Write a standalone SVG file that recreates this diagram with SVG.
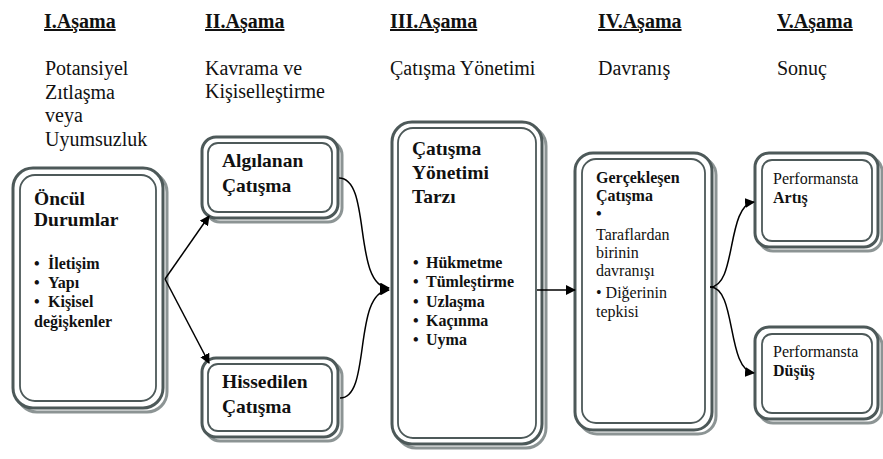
<svg xmlns="http://www.w3.org/2000/svg" width="883" height="459" viewBox="0 0 883 459">
<style>
text{font-family:"Liberation Serif","Times New Roman",serif;fill:#111}
.h{font-size:20px;font-weight:bold;text-decoration:underline}
.s{font-size:20px;font-weight:normal}
.t{font-size:19.5px;font-weight:bold}
.li{font-size:16px;font-weight:bold}
.r{font-size:16px;font-weight:normal}
.b{font-size:16px;font-weight:bold}
.sh{fill:none;stroke:#8c9494;stroke-width:3}
.o{fill:#fff;stroke:#4d5959;stroke-width:3}
.i{fill:none;stroke:#4d5959;stroke-width:1.8}
.c{fill:none;stroke:#000;stroke-width:1.5}
</style>
<defs>
<marker id="ah" viewBox="0 0 10 10" refX="9" refY="5" markerWidth="10" markerHeight="10" markerUnits="userSpaceOnUse" orient="auto">
<path d="M0,0 L10,5 L0,10 Z" fill="#000"/>
</marker>
</defs>
<rect width="883" height="459" fill="#fff"/>
<g id="headers">
<text class="h" x="44" y="28">I.Aşama</text>
<text class="h" x="205" y="28">II.Aşama</text>
<text class="h" x="390" y="28">III.Aşama</text>
<text class="h" x="598" y="28">IV.Aşama</text>
<text class="h" x="777" y="28">V.Aşama</text>
<text class="s" x="45" y="75">Potansiyel</text>
<text class="s" x="45" y="99">Zıtlaşma</text>
<text class="s" x="45" y="122">veya</text>
<text class="s" x="45" y="146">Uyumsuzluk</text>
<text class="s" x="205" y="75">Kavrama ve</text>
<text class="s" x="205" y="98">Kişiselleştirme</text>
<text class="s" x="390" y="75">Çatışma Yönetimi</text>
<text class="s" x="598" y="75">Davranış</text>
<text class="s" x="777" y="75">Sonuç</text>
</g>
<g id="n1">
<rect class="sh" x="17" y="172" width="150" height="240" rx="20"/>
<rect class="o" x="13" y="168" width="150" height="240" rx="20"/>
<rect class="i" x="20" y="175" width="136" height="226" rx="15"/>
<text class="t" x="34" y="205">Öncül</text>
<text class="t" x="34" y="226">Durumlar</text>
<text class="li" x="34" y="269">•</text><text class="li" x="48" y="269">İletişim</text>
<text class="li" x="34" y="288">•</text><text class="li" x="48" y="288">Yapı</text>
<text class="li" x="34" y="307">•</text><text class="li" x="48" y="307">Kişisel</text>
<text class="li" x="34" y="327">değişkenler</text>
</g>
<g id="n2">
<rect class="sh" x="206" y="141" width="136" height="81" rx="14"/>
<rect class="o" x="202" y="137" width="136" height="81" rx="14"/>
<rect class="i" x="208" y="143" width="124" height="69" rx="10"/>
<text class="t" x="222" y="167">Algılanan</text>
<text class="t" x="222" y="192">Çatışma</text>
</g>
<g id="n3">
<rect class="sh" x="206" y="362" width="136" height="79" rx="14"/>
<rect class="o" x="202" y="358" width="136" height="79" rx="14"/>
<rect class="i" x="208" y="364" width="124" height="67" rx="10"/>
<text class="t" x="222" y="388">Hissedilen</text>
<text class="t" x="222" y="413">Çatışma</text>
</g>
<g id="n4">
<rect class="sh" x="396" y="126" width="150" height="322" rx="20"/>
<rect class="o" x="392" y="122" width="150" height="322" rx="20"/>
<rect class="i" x="398" y="128" width="138" height="310" rx="15"/>
<text class="t" x="412" y="155">Çatışma</text>
<text class="t" x="412" y="179">Yönetimi</text>
<text class="t" x="412" y="203">Tarzı</text>
<text class="li" x="413" y="268">•</text><text class="li" x="426" y="268">Hükmetme</text>
<text class="li" x="413" y="287">•</text><text class="li" x="426" y="287">Tümleştirme</text>
<text class="li" x="413" y="307">•</text><text class="li" x="426" y="307">Uzlaşma</text>
<text class="li" x="413" y="326">•</text><text class="li" x="426" y="326">Kaçınma</text>
<text class="li" x="413" y="345">•</text><text class="li" x="426" y="345">Uyma</text>
</g>
<g id="n5">
<rect class="sh" x="579" y="157" width="137" height="277" rx="18"/>
<rect class="o" x="575" y="153" width="137" height="277" rx="18"/>
<rect class="i" x="582" y="159" width="123" height="264" rx="14"/>
<text class="b" x="596" y="183">Gerçekleşen</text>
<text class="b" x="596" y="201">Çatışma</text>
<text class="b" x="596" y="219">•</text>
<text class="r" x="596" y="240">Taraflardan</text>
<text class="r" x="596" y="258">birinin</text>
<text class="r" x="596" y="276">davranışı</text>
<text class="r" x="596" y="298">•  Diğerinin</text>
<text class="r" x="596" y="317">tepkisi</text>
</g>
<g id="n6">
<rect class="sh" x="759" y="157" width="123" height="94" rx="14"/>
<rect class="o" x="755" y="153" width="123" height="94" rx="14"/>
<rect class="i" x="762" y="160" width="110" height="81" rx="10"/>
<text class="r" x="773" y="184">Performansta</text>
<text class="b" x="773" y="203">Artış</text>
</g>
<g id="n7">
<rect class="sh" x="759" y="331" width="123" height="92" rx="14"/>
<rect class="o" x="755" y="327" width="123" height="92" rx="14"/>
<rect class="i" x="762" y="334" width="110" height="79" rx="10"/>
<text class="r" x="773" y="357">Performansta</text>
<text class="b" x="773" y="376">Düşüş</text>
</g>
<g id="connectors">
<path class="c" d="M165,279 L209,216" marker-end="url(#ah)"/>
<path class="c" d="M165,279 L209,363" marker-end="url(#ah)"/>
<path class="c" d="M339,178 C372,178 352,286 389,288" marker-end="url(#ah)"/>
<path class="c" d="M340,398 C372,398 352,292 389,290" marker-end="url(#ah)"/>
<path class="c" d="M537,290 L575,290" marker-end="url(#ah)"/>
<path class="c" d="M710,287 C737,287 726,205 754,202" marker-end="url(#ah)"/>
<path class="c" d="M710,287 C737,287 726,370 754,373" marker-end="url(#ah)"/>
</g>
</svg>
